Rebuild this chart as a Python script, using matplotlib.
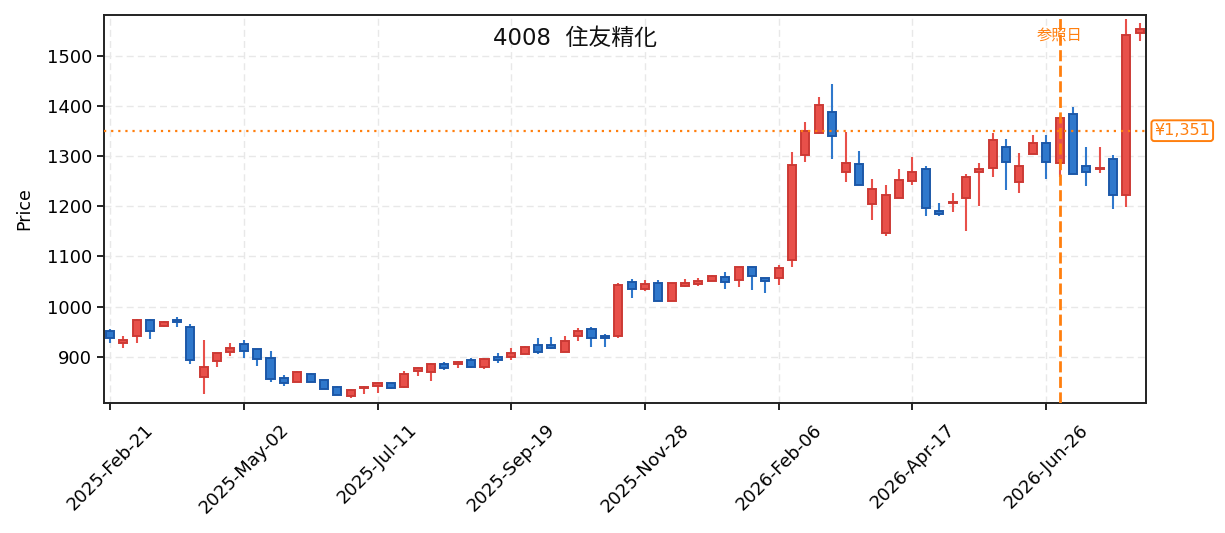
import matplotlib
matplotlib.use("Agg")
import matplotlib.pyplot as plt
import matplotlib.transforms as mtransforms

plt.rcParams['font.family'] = ['DejaVu Sans', 'Noto Sans CJK JP']

# Weekly OHLC data (week index 0 = 2025-Feb-21)
opens = [952, 927, 941, 974, 961, 973, 960, 859, 892, 909,
         925, 915, 897, 857, 850, 865, 853, 839, 822, 837,
         842, 847, 839, 871, 869, 886, 885, 893, 879, 899,
         899, 905, 924, 924, 909, 941, 956, 942, 941, 1048,
         1035, 1046, 1010, 1040, 1045, 1050, 1058, 1052, 1078, 1056,
         1056, 1092, 1302, 1347, 1389, 1269, 1285, 1205, 1146, 1217,
         1251, 1275, 1191, 1207, 1217, 1268, 1277, 1319, 1249, 1305,
         1327, 1287, 1384, 1281, 1274, 1295, 1223, 1546]
closes = [937, 933, 973, 951, 969, 970, 893, 879, 907, 917,
          911, 896, 855, 847, 870, 850, 836, 824, 833, 840,
          847, 838, 866, 877, 885, 877, 889, 879, 896, 893,
          908, 920, 909, 917, 932, 952, 937, 937, 1042, 1035,
          1044, 1010, 1046, 1046, 1050, 1060, 1048, 1078, 1060, 1051,
          1076, 1283, 1350, 1403, 1340, 1287, 1243, 1235, 1223, 1253,
          1269, 1197, 1185, 1209, 1259, 1275, 1333, 1289, 1281, 1327,
          1289, 1377, 1265, 1269, 1277, 1223, 1543, 1555]
highs = [955, 941, 975, 975, 971, 979, 965, 933, 908, 928,
         934, 916, 912, 864, 872, 867, 854, 841, 835, 842,
         849, 847, 871, 879, 887, 889, 891, 897, 897, 907,
         917, 921, 937, 939, 941, 957, 959, 945, 1046, 1054,
         1052, 1052, 1046, 1054, 1057, 1063, 1069, 1078, 1078, 1056,
         1083, 1309, 1368, 1418, 1444, 1349, 1311, 1254, 1242, 1274,
         1298, 1281, 1206, 1227, 1264, 1286, 1346, 1334, 1306, 1342,
         1342, 1377, 1398, 1318, 1318, 1302, 1574, 1566]
lows = [927, 918, 927, 936, 960, 960, 886, 826, 879, 901,
        898, 881, 849, 841, 849, 849, 835, 823, 817, 825,
        827, 835, 838, 862, 852, 874, 878, 878, 876, 888,
        894, 905, 906, 916, 909, 932, 920, 920, 938, 1017,
        1030, 1010, 1010, 1038, 1040, 1050, 1035, 1039, 1033, 1026,
        1043, 1078, 1288, 1345, 1295, 1249, 1243, 1173, 1141, 1217,
        1243, 1181, 1181, 1189, 1151, 1201, 1259, 1233, 1226, 1304,
        1255, 1259, 1264, 1241, 1267, 1195, 1199, 1531]

tick_positions = [0, 10, 20, 30, 40, 50, 60, 70]
tick_labels = ['2025-Feb-21', '2025-May-02', '2025-Jul-11', '2025-Sep-19',
               '2025-Nov-28', '2026-Feb-06', '2026-Apr-17', '2026-Jun-26']
y_ticks = [900, 1000, 1100, 1200, 1300, 1400, 1500]

reference_price = 1351
reference_label = '¥1,351'
reference_week = 71
reference_text = '参照日'
title_text = '4008  住友精化'

UP_FILL, UP_EDGE = '#e8504a', '#cc3a35'
DN_FILL, DN_EDGE = '#2f78cc', '#1c58a8'
ORANGE = '#ff7f0e'

fig = plt.figure(figsize=(12.25, 5.33), dpi=100)
ax = fig.add_axes([0.0849, 0.2445, 0.8506, 0.7274])

xs = list(range(len(opens)))
for x, o, c, h, l in zip(xs, opens, closes, highs, lows):
    up = c >= o
    fill = UP_FILL if up else DN_FILL
    edge = UP_EDGE if up else DN_EDGE
    ax.vlines(x, l, h, color=fill, linewidth=1.5, zorder=2)
    ax.bar(x, c - o, bottom=o, width=0.6, color=fill, edgecolor=edge,
           linewidth=1.4, zorder=3)

ax.axhline(reference_price, color=ORANGE, linestyle=(0, (1, 2.2)),
           linewidth=1.6, zorder=5)
ax.axvline(reference_week, color=ORANGE, linestyle=(0, (4, 1.6)),
           linewidth=2.0, zorder=5)

ax.set_xlim(-0.45, 77.46)
ax.set_ylim(808, 1582)
ax.set_yticks(y_ticks)
ax.set_xticks(tick_positions)
ax.set_xticklabels(tick_labels, rotation=45, ha='center')
ax.tick_params(axis='both', labelsize=13, length=5, width=1.4, color='#222222')
ax.tick_params(axis='x', pad=8)
ax.set_ylabel('Price', fontsize=12.5, labelpad=10)
ax.grid(True, linestyle=(0, (5, 3)), color='#e8e8e8', linewidth=1.0, zorder=0)
ax.set_axisbelow(True)
for s in ax.spines.values():
    s.set_color('#222222')
    s.set_linewidth(1.4)

ax.text(0.452, 0.94, title_text, transform=ax.transAxes, ha='center',
        va='center', fontsize=16.5, color='#111111')

trans = mtransforms.blended_transform_factory(ax.transData, ax.transAxes)
ax.text(reference_week, 0.947, reference_text, transform=trans, ha='center',
        va='center', fontsize=11, color=ORANGE, zorder=6,
        family=['Noto Sans CJK JP', 'DejaVu Sans'])

trans2 = mtransforms.blended_transform_factory(ax.transAxes, ax.transData)
ax.text(1.008, reference_price, reference_label, transform=trans2, ha='left',
        va='center', fontsize=11.5, color=ORANGE, clip_on=False,
        bbox=dict(boxstyle='round,pad=0.18', fc='white', ec=ORANGE, lw=1.4))

fig.savefig('out.png', dpi=100)
